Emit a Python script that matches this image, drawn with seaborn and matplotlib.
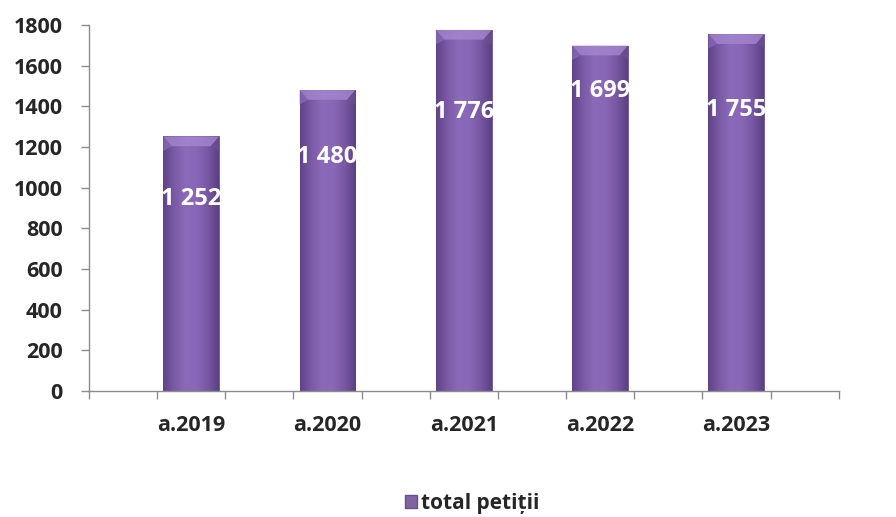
import numpy as np
import pandas as pd
import seaborn as sns
import matplotlib.pyplot as plt
from matplotlib.patches import Patch, Polygon
from matplotlib.colors import LinearSegmentedColormap

# data
years = ['a.2019', 'a.2020', 'a.2021', 'a.2022', 'a.2023']
petitii = [1252, 1480, 1776, 1699, 1755]
# where the value labels sit (data units, as placed in the original)
label_y = [945, 1150, 1370, 1475, 1380]
series_name = 'total petiții'

# the original has an empty slot between every year
slots = []
for i, y in enumerate(years):
    slots.append('_gap%d' % i)
    slots.append(y)
slots.append('_gap_end')

df = pd.DataFrame({'an': years, 'petitii': petitii})

sns.set_theme(style='white')
plt.rcParams['font.family'] = ['Open Sans', 'DejaVu Sans']
plt.rcParams['font.weight'] = 'bold'

fig, ax = plt.subplots(figsize=(8.96, 5.17), dpi=100)
fig.subplots_adjust(left=0.0993, right=0.936, bottom=0.2437, top=0.9516)

sns.barplot(data=df, x='an', y='petitii', order=slots, color='#8064A2',
            width=0.82, ax=ax, errorbar=None, saturation=1)

# cylinder-like shading for each bar
cmap = LinearSegmentedColormap.from_list(
    'purp', ['#5f4287', '#7a5aa6', '#8b6ab9', '#8967b7', '#7758a3', '#5a3f82'])
grad = np.linspace(0, 1, 256).reshape(1, -1)
bars = [p for p in ax.patches if p.get_height() > 0]
for p in bars:
    x0, w, h = p.get_x(), p.get_width(), p.get_height()
    im = ax.imshow(grad, cmap=cmap, aspect='auto', extent=(x0, x0 + w, 0, h), zorder=2)
    im.set_clip_path(p)
    p.set_edgecolor('#6a4f8e')
    p.set_linewidth(0.6)
    # soft bevel on the top
    inset = 0.15 * w
    drop = 48
    top = Polygon([(x0, h), (x0 + w, h), (x0 + w - inset, h - drop), (x0 + inset, h - drop)],
                  closed=True, facecolor='#a586cf', edgecolor='none', alpha=0.8, zorder=3)
    ax.add_patch(top)
    side_l = Polygon([(x0, h), (x0 + inset, h - drop), (x0, h - drop * 1.5)],
                     closed=True, facecolor='#8c6cb9', edgecolor='none', alpha=0.7, zorder=3)
    side_r = Polygon([(x0 + w, h), (x0 + w - inset, h - drop), (x0 + w, h - drop * 1.5)],
                     closed=True, facecolor='#6c4f93', edgecolor='none', alpha=0.7, zorder=3)
    ax.add_patch(side_l)
    ax.add_patch(side_r)

# value labels
for p, v, ly in zip(bars, petitii, label_y):
    ax.text(p.get_x() + p.get_width() / 2, ly, '{:,}'.format(v).replace(',', ' '),
            ha='center', va='center', color='white', fontsize=17, fontweight='bold', zorder=5)

ax.set_xlim(-0.5, len(slots) - 0.5)
ax.set_ylim(0, 1800)
ax.set_yticks(range(0, 1801, 200))
ax.set_xticks([slots.index(y) for y in years])
ax.set_xticklabels(years)
ax.set_xticks(np.arange(-0.5, len(slots), 1.0), minor=True)
ax.tick_params(axis='x', which='major', length=0, pad=17, labelsize=15.5)
ax.tick_params(axis='x', which='minor', length=6, color='#8c8c8c', width=1, direction='out', bottom=True)
ax.tick_params(axis='y', length=6, color='#8c8c8c', width=1, direction='out', left=True, labelsize=15.5, pad=13)
for lab in ax.get_xticklabels() + ax.get_yticklabels():
    lab.set_fontweight('bold')
ax.set_xlabel('')
ax.set_ylabel('')
sns.despine(ax=ax)
for s in ['left', 'bottom']:
    ax.spines[s].set_color('#8c8c8c')
    ax.spines[s].set_linewidth(1)

handle = Patch(facecolor='#8064A2', edgecolor='#6a4f8e')
fig.legend([handle], [series_name], loc='center', bbox_to_anchor=(0.527, 0.026),
           frameon=False, prop={'weight': 'bold', 'size': 15},
           handlelength=0.6, handleheight=0.6, handletextpad=0.2,
           borderpad=0.1)

fig.savefig('out.png', dpi=100)
